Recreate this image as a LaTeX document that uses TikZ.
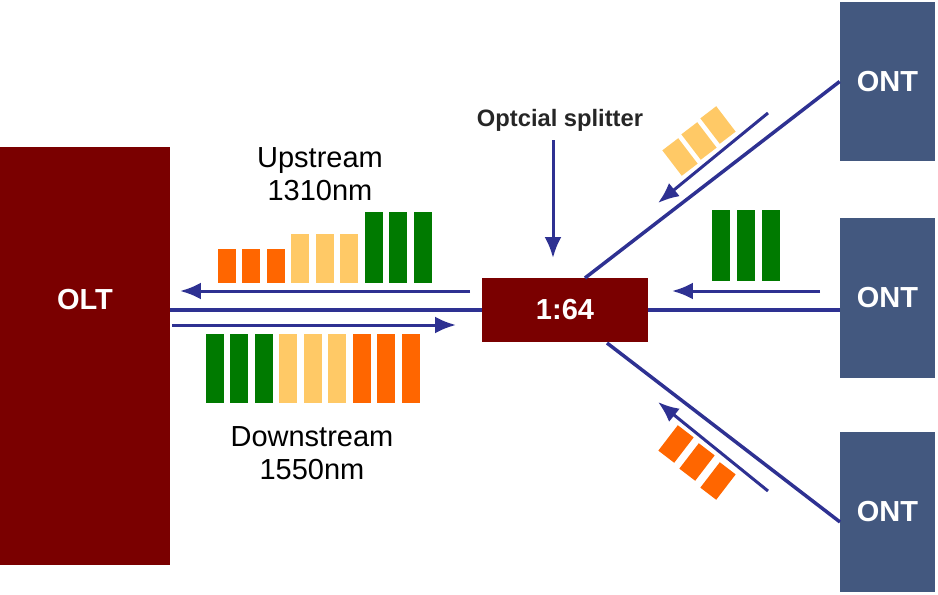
\documentclass[tikz,border=0pt]{standalone}
\usepackage{fontspec}
\setmainfont{Liberation Sans}
\usetikzlibrary{positioning, arrows.meta, calc}
\definecolor{oltred}{HTML}{7A0000}
\definecolor{ontblue}{HTML}{43587F}
\definecolor{fiberblue}{HTML}{2E3192}
\definecolor{bargreen}{HTML}{007A00}
\definecolor{baryellow}{HTML}{FFC966}
\definecolor{barorange}{HTML}{FF6600}
\begin{document}
\begin{tikzpicture}[x=0.02cm, y=-0.02cm, >={Latex[length=0.42cm,width=0.34cm]},
  box/.style={fill=oltred, draw=none, inner sep=0pt},
  boxtext/.style={text=white, font=\bfseries\fontsize{16.5}{20}\selectfont},
  ont/.style={box, boxtext, fill=ontblue, minimum width=1.9cm, minimum height=3.2cm},
  bar/.style={draw=none, inner sep=0pt, outer sep=0pt, minimum width=0.36cm, anchor=south},
  tilt/.style={draw=none, inner sep=0pt, minimum width=0.4cm, minimum height=0.64cm},
  fiber/.style={draw=fiberblue, line width=0.07cm},
  flow/.style={draw=fiberblue, line width=0.06cm, ->},
  wavetext/.style={font=\fontsize{16.5}{18.5}\selectfont, align=center}]

\useasboundingbox (0,0) rectangle (938,595);

% OLT, splitter and the three ONTs
\node[box, minimum width=3.4cm, minimum height=8.36cm] (olt) at (85,356) {};
\node[boxtext] (oltname) at (85,300) {OLT};
\node[box, boxtext, minimum width=3.32cm, minimum height=1.3cm] (spl) at (565,310) {1:64};
\node[ont] (ont1) at (887.5,81.5) {ONT};
\node[ont] (ont2) at (887.5,298) {ONT};
\node[ont] (ont3) at (887.5,512) {ONT};

% fibres
\coordinate (tapup) at (585,278);
\coordinate (tapdown) at (607,343);
\coordinate (ont3in) at (840,522);
\draw[fiber] (spl.west -| olt.east) -- (spl.west);
\draw[fiber] (spl.east) -- (spl.east -| ont2.west);
\draw[fiber] (tapup) -- (ont1.west);
\draw[fiber] (tapdown) -- (ont3in);

% direction arrows
\coordinate (us0) at (470,291);
\coordinate (us1) at (180,291);
\coordinate (ds0) at (172,325);
\coordinate (ds1) at (456,325);
\coordinate (a10) at (768,113);
\coordinate (a11) at (658,203);
\coordinate (a20) at (820,291);
\coordinate (a21) at (672,291);
\coordinate (a30) at (768,491);
\coordinate (a31) at (658,402);
\draw[flow] (us0) -- (us1);
\draw[flow] (ds0) -- (ds1);
\draw[flow] (a10) -- (a11);
\draw[flow] (a20) -- (a21);
\draw[flow] (a30) -- (a31);

% splitter label
\node[font=\bfseries\fontsize{13.5}{16}\selectfont, text=black!85] (spltext) at (560,120) {Optcial splitter};
\coordinate (splin) at (553,140);
\draw[flow] (splin) -- (splin |- 0,258);

% wavelengths
\node[wavetext] (uptext) at (320,174) {Upstream\\1310nm};
\node[wavetext] (downtext) at (312,453) {Downstream\\1550nm};

% upstream bars
\node[bar, fill=barorange, minimum height=0.68cm] (u1) at (227,283) {};
\node[bar, fill=barorange, minimum height=0.68cm, right=0.13cm of u1.south east, anchor=south west] (u2) {};
\node[bar, fill=barorange, minimum height=0.68cm, right=0.13cm of u2.south east, anchor=south west] (u3) {};
\node[bar, fill=baryellow, minimum height=0.98cm, right=0.13cm of u3.south east, anchor=south west] (u4) {};
\node[bar, fill=baryellow, minimum height=0.98cm, right=0.13cm of u4.south east, anchor=south west] (u5) {};
\node[bar, fill=baryellow, minimum height=0.98cm, right=0.13cm of u5.south east, anchor=south west] (u6) {};
\node[bar, fill=bargreen, minimum height=1.42cm, right=0.13cm of u6.south east, anchor=south west] (u7) {};
\node[bar, fill=bargreen, minimum height=1.42cm, right=0.13cm of u7.south east, anchor=south west] (u8) {};
\node[bar, fill=bargreen, minimum height=1.42cm, right=0.13cm of u8.south east, anchor=south west] (u9) {};

% downstream bars
\node[bar, fill=bargreen, minimum height=1.38cm] (d1) at (215,403) {};
\node[bar, fill=bargreen, minimum height=1.38cm, right=0.13cm of d1] (d2) {};
\node[bar, fill=bargreen, minimum height=1.38cm, right=0.13cm of d2] (d3) {};
\node[bar, fill=baryellow, minimum height=1.38cm, right=0.13cm of d3] (d4) {};
\node[bar, fill=baryellow, minimum height=1.38cm, right=0.13cm of d4] (d5) {};
\node[bar, fill=baryellow, minimum height=1.38cm, right=0.13cm of d5] (d6) {};
\node[bar, fill=barorange, minimum height=1.38cm, right=0.13cm of d6] (d7) {};
\node[bar, fill=barorange, minimum height=1.38cm, right=0.13cm of d7] (d8) {};
\node[bar, fill=barorange, minimum height=1.38cm, right=0.13cm of d8] (d9) {};

% bars from the ONTs
\node[tilt, fill=baryellow, rotate=37.4] (t1) at (680,157) {};
\node[tilt, fill=baryellow, rotate=37.4] (t2) at (699,141) {};
\node[tilt, fill=baryellow, rotate=37.4] (t3) at (718,125) {};
\node[bar, fill=bargreen, minimum height=1.42cm] (m1) at (721,281) {};
\node[bar, fill=bargreen, minimum height=1.42cm, right=0.14cm of m1] (m2) {};
\node[bar, fill=bargreen, minimum height=1.42cm, right=0.14cm of m2] (m3) {};
\node[tilt, fill=barorange, rotate=-37.5] (b1) at (676,444) {};
\node[tilt, fill=barorange, rotate=-37.5] (b2) at (697,462) {};
\node[tilt, fill=barorange, rotate=-37.5] (b3) at (718,481) {};

\end{tikzpicture}
\end{document}
